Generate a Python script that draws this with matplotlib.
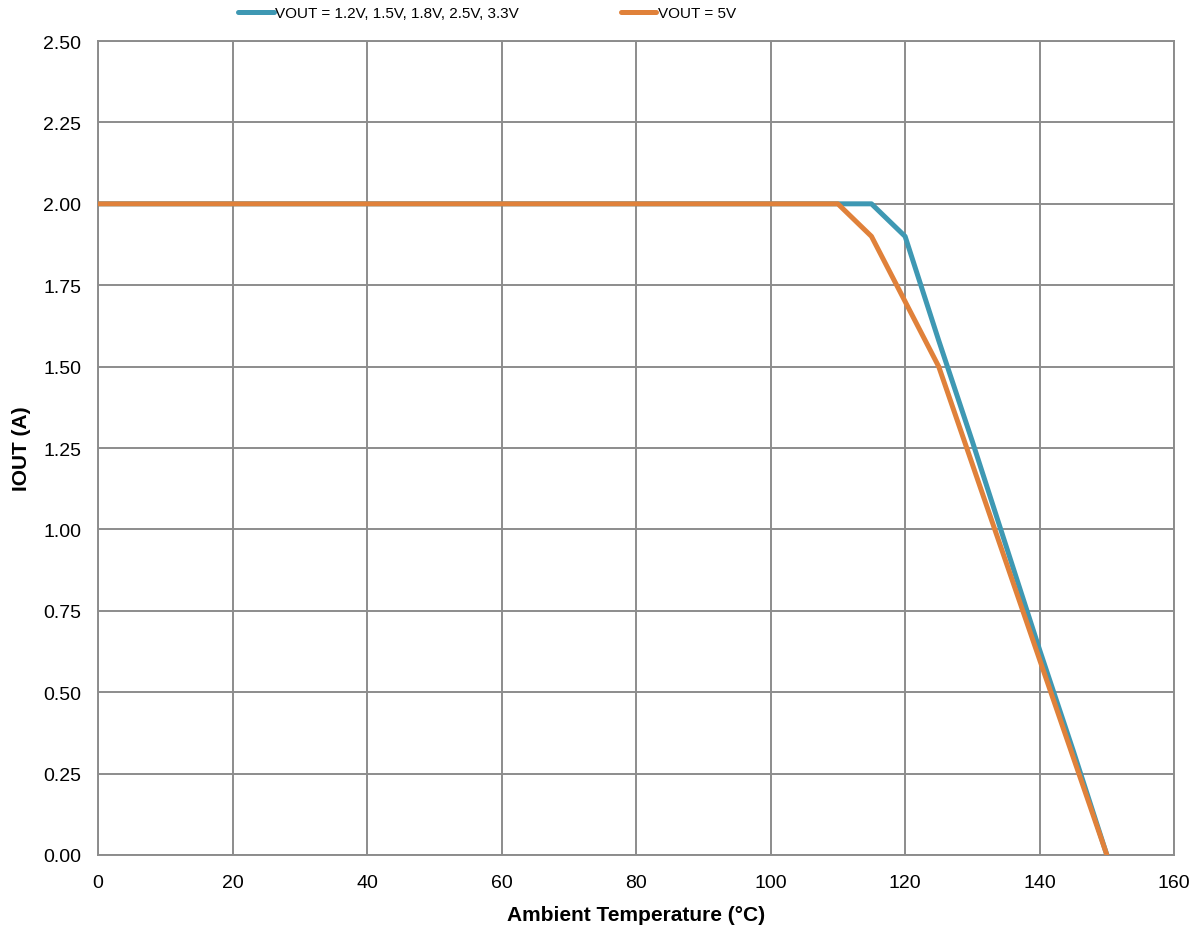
import numpy as np
import matplotlib
matplotlib.use('Agg')
import matplotlib.pyplot as plt

plt.rcParams['font.family'] = ['Liberation Sans', 'DejaVu Sans']

# 数据
temp_low = [0, 110, 115, 120, 125, 130, 135, 140, 145, 150]
iout_low = [2.0, 2.0, 2.0, 1.9, 1.58, 1.27, 0.95, 0.63, 0.32, 0.0]
temp_5v = [0, 110, 115, 120, 125, 130, 135, 140, 145, 150]
iout_5v = [2.0, 2.0, 1.9, 1.7, 1.5, 1.2, 0.9, 0.6, 0.3, 0.0]
labels = ['VOUT = 1.2V, 1.5V, 1.8V, 2.5V, 3.3V', 'VOUT = 5V']
xticks = np.arange(0, 161, 20)
yticks = np.arange(0, 2.51, 0.25)

blue = '#3E98B3'
orange = '#E0813A'
grid_c = '#8C8C8C'

fig = plt.figure(figsize=(12.03, 9.28), dpi=100)
ax = fig.add_axes([0.0815, 0.0776, 0.8945, 0.8771])

ax.plot(temp_low, iout_low, color=blue, lw=3.6, label=labels[0], solid_capstyle='round', zorder=3)
ax.plot(temp_5v, iout_5v, color=orange, lw=3.6, label=labels[1], solid_capstyle='round', zorder=4)

ax.set_xlim(0, 160)
ax.set_ylim(0, 2.5)
ax.set_xticks(xticks)
ax.set_yticks(yticks)
ax.set_yticklabels(['%.2f' % v for v in yticks])
ax.grid(True, color=grid_c, lw=1.4)
ax.set_axisbelow(True)
for s in ax.spines.values():
    s.set_color(grid_c)
    s.set_linewidth(1.4)
ax.tick_params(axis='y', length=0, labelsize=14, pad=12)
ax.tick_params(axis='x', length=0, labelsize=14, pad=14)

ax.set_xlabel('Ambient Temperature (°C)', fontsize=15, fontweight='bold', labelpad=10)
ax.set_ylabel('IOUT (A)', fontsize=15, fontweight='bold', labelpad=9)

fig.legend(loc='center', bbox_to_anchor=(0.405, 0.985), ncol=2, frameon=False,
           fontsize=11, handlelength=2.3, handletextpad=0.1, columnspacing=6.7)

plt.savefig('out.png', dpi=100)
